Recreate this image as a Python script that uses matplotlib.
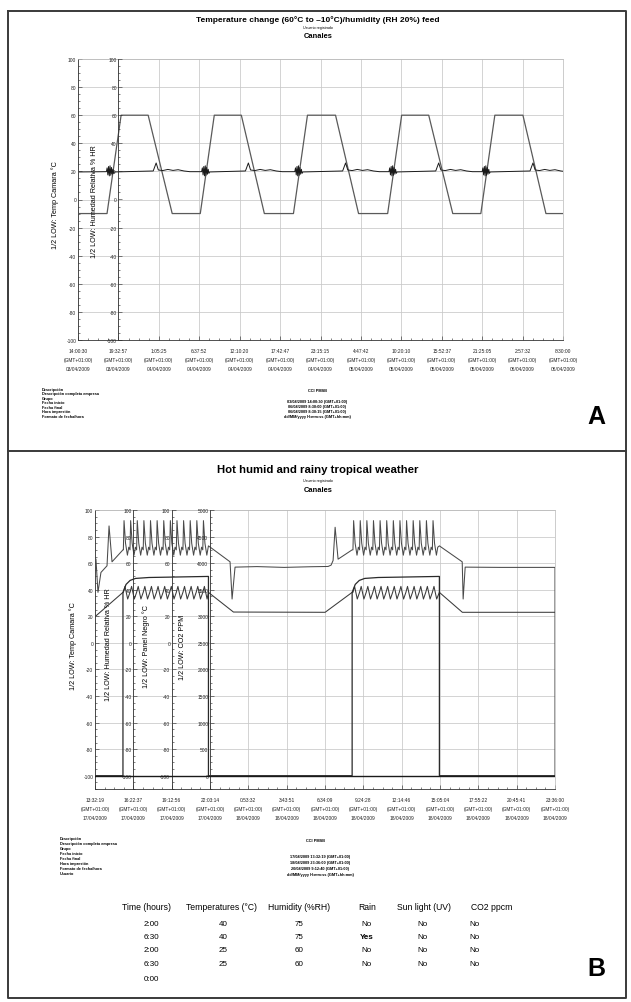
import numpy as np
import matplotlib
matplotlib.use("Agg")
import matplotlib.pyplot as plt
from matplotlib.ticker import AutoMinorLocator
from matplotlib.lines import Line2D

plt.rcParams['font.family'] = ['Liberation Sans', 'DejaVu Sans']
plt.rcParams['axes.unicode_minus'] = False

W, H = 631, 1003

# ---------------- panel A data ----------------
a_tick_times = ["14:00:30", "19:32:57", "1:05:25", "6:37:52", "12:10:20", "17:42:47", "23:15:15",
                "4:47:42", "10:20:10", "15:52:37", "21:25:05", "2:57:32", "8:30:00"]
a_tick_dates = ["03/04/2009", "03/04/2009", "04/04/2009", "04/04/2009", "04/04/2009", "04/04/2009",
                "04/04/2009", "05/04/2009", "05/04/2009", "05/04/2009", "05/04/2009", "06/04/2009",
                "06/04/2009"]
a_span = 66.158  # hours from first to last tick

# chamber temperature (hours since first tick, degC)
a_temp_hours = [0.2, 3.96, 5.88, 9.57, 12.85, 16.68, 18.59, 22.28, 25.42, 29.39, 31.30,
                35.13, 38.27, 42.24, 44.15, 47.84, 51.12, 54.95, 56.86, 60.69, 63.83, 66.16]
a_temp_vals = [-10, -10, 60, 60, -10, -10, 60, 60, -10, -10, 60, 60, -10, -10, 60, 60,
               -10, -10, 60, 60, -10, -10]

# relative humidity: baseline, bumps (temp falling) and noisy parts (temp rising)
a_hum_start = [0.2, 19.6]
a_bump_hours = [10.66, 23.24, 36.50, 49.20, 62.06]
a_bump_offs = [-0.4, 0.0, 0.3, 0.9, 1.6, 2.3, 3.0, 3.8, 4.6]
a_bump_vals = [20.3, 26.0, 21.0, 20.6, 21.4, 20.7, 21.2, 20.3, 19.8]
a_noise_hours = [4.37, 17.36, 30.07, 42.92, 55.63]
a_noise_offs = [-0.5, -0.4, -0.3, -0.2, -0.1, 0.0, 0.1, 0.2, 0.3, 0.4, 0.5, 0.6]
a_noise_vals = [19.8, 22.5, 17.5, 23.5, 16.8, 24.0, 17.2, 22.8, 18.0, 21.5, 18.6, 19.6]

# ---------------- panel B data ----------------
b_tick_times = ["13:32:19", "16:22:37", "19:12:56", "22:03:14", "0:53:32", "3:43:51", "6:34:09",
                "9:24:28", "12:14:46", "15:05:04", "17:55:22", "20:45:41", "23:36:00"]
b_tick_dates = ["17/04/2009", "17/04/2009", "17/04/2009", "17/04/2009", "18/04/2009",
                "18/04/2009", "18/04/2009", "18/04/2009", "18/04/2009", "18/04/2009",
                "18/04/2009", "18/04/2009", "18/04/2009"]
b_span = 34.061

# rain cycles (sharp peaks)
b_cycle1_hours = [2.10, 2.59, 3.08, 3.57, 4.06, 4.55, 5.04, 5.53, 6.02, 6.51, 7.00, 7.49, 7.98]
b_cycle2_hours = [19.10, 19.59, 20.08, 20.57, 21.06, 21.55, 22.04, 22.53, 23.02, 23.51, 24.00,
                  24.49, 24.98]

# black panel temperature (upper trace)
b_pn_pre_hours = [0.07, 0.22, 0.44, 0.89, 1.04, 1.26, 2.07]
b_pn_pre_vals = [63, 38, 53, 58, 88, 61, 70]
b_pn_peak_offs = [0.0, 0.05, 0.16, 0.30, 0.40]
b_pn_peak_vals = [70, 92, 75, 66, 72]
b_pn_mid_hours = [8.40, 10.00, 10.15, 10.37, 12.0, 14.0, 16.0, 17.26, 17.48, 17.63, 17.78, 18.00, 19.04]
b_pn_mid_vals = [73, 61, 33, 57, 57.4, 56.8, 57.3, 57.5, 58.5, 62, 87, 63, 70]
b_pn_post_hours = [25.50, 27.19, 27.26, 27.41, 30.0, 34.06, 34.06]
b_pn_post_vals = [73, 61, 33, 57, 56.8, 56.8, -100]

# relative humidity (plateau trace)
b_hum_hours = [0.07, 2.07, 2.07, 2.30, 2.60, 3.00, 4.00, 8.40, 8.40, 19.04, 19.04, 19.27,
               19.57, 19.97, 20.97, 25.50, 25.50, 34.06]
b_hum_vals = [-100, -100, 38, 44, 47, 48.5, 49.2, 50, -100, -100, 38, 44, 47, 48.5, 49.2,
              50, -100, -100]

# chamber temperature (lower zig-zag trace)
b_tc_pre_hours = [0.0, 2.07]
b_tc_pre_vals = [19.7, 38]
b_tc_zig_offs = [0.0, 0.12, 0.32]
b_tc_zig_vals = [38, 42.5, 33]
b_tc_mid_hours = [8.40, 10.25, 17.04, 19.04]
b_tc_mid_vals = [38, 23.2, 23, 38]
b_tc_post_hours = [25.50, 27.20, 34.06]
b_tc_post_vals = [38, 23, 23]

# CO2 ppm
b_co2_hours = [0.0, 34.06]
b_co2_vals = [0, 0]

# table
table_cols = ["Time (hours)", "Temperatures (\u00b0C)", "Humidity (%RH)", "Rain", "Sun light (UV)", "CO2 ppcm"]
table_rows = [["2:00", "40", "75", "No", "No", "No"],
              ["6:30", "40", "75", "Yes", "No", "No"],
              ["2:00", "25", "60", "No", "No", "No"],
              ["6:30", "25", "60", "No", "No", "No"],
              ["0:00", "", "", "", "", ""]]

info_names = ["Descripci\u00f3n", "Descripci\u00f3n completa empresa", "Grupo", "Fecha inicio",
              "Fecha final", "Hora impresi\u00f3n", "Formato de fecha/hora"]
info_a = ["03/04/2009 14:00:30 (GMT+01:00)", "06/04/2009 8:30:00 (GMT+01:00)",
          "06/04/2009 8:30:15 (GMT+01:00)", "dd/MM/yyyy H:mm:ss (GMT+hh:mm)"]
info_b = ["17/04/2009 13:32:19 (GMT+01:00)", "18/04/2009 23:36:00 (GMT+01:00)",
          "20/04/2009 9:12:40 (GMT+01:00)", "dd/MM/yyyy H:mm:ss (GMT+hh:mm)"]


def place(times, offs, vals):
    xs, ys = [], []
    for t in times:
        for o, v in zip(offs, vals):
            xs.append(t + o)
            ys.append(v)
    return xs, ys


def fx(px):
    return px / W


def fy(py):
    return 1 - py / H


def axes_px(fig, left, top, right, bottom):
    return fig.add_axes([left / W, 1 - bottom / H, (right - left) / W, (bottom - top) / H])


def style(ax):
    ax.tick_params(which='both', direction='in', labelsize=3.5, width=0.4, pad=1.2, colors='#222222')
    ax.tick_params(which='major', length=2.6)
    ax.tick_params(which='minor', length=1.4)


def main_axis(ax, span, times, dates, ylim):
    ax.set_xlim(0, span)
    ax.set_ylim(*ylim)
    ax.set_xticks(np.linspace(0, span, 13))
    ax.set_xticklabels([f"{t}\n(GMT+01:00)\n{d}" for t, d in zip(times, dates)],
                       fontsize=3.8, linespacing=2.05)
    ax.set_yticks(np.arange(-100, 101, 20))
    ax.xaxis.set_minor_locator(AutoMinorLocator(4))
    ax.yaxis.set_minor_locator(AutoMinorLocator(4))
    ax.grid(True, which='major', color='#c8c8c8', lw=0.55)
    ax.set_axisbelow(True)
    for s in ['top', 'right']:
        ax.spines[s].set_color('#b8b8b8')
        ax.spines[s].set_linewidth(0.5)
    for s in ['left', 'bottom']:
        ax.spines[s].set_color('#333333')
        ax.spines[s].set_linewidth(0.6)
    style(ax)
    ax.tick_params(axis='x', pad=5.5)


def extra_axis(ax, frac, ylim, ticks):
    t = ax.twinx()
    t.set_ylim(*ylim)
    t.set_yticks(ticks)
    t.yaxis.set_minor_locator(AutoMinorLocator(4))
    t.yaxis.set_ticks_position('left')
    t.spines['left'].set_position(('axes', frac))
    t.spines['left'].set_visible(True)
    t.spines['left'].set_color('#333333')
    t.spines['left'].set_linewidth(0.6)
    for s in ['right', 'top', 'bottom']:
        t.spines[s].set_visible(False)
    style(t)
    return t


fig = plt.figure(figsize=(W / 100, H / 100), dpi=100)

# outer frame and separator
frame = dict(color='#3a3a3a', lw=1.4, transform=fig.transFigure)
fig.add_artist(Line2D([fx(8), fx(626), fx(626), fx(8), fx(8)],
                      [fy(12), fy(12), fy(999), fy(999), fy(12)], **frame))
fig.add_artist(Line2D([fx(8), fx(626)], [fy(452), fy(452)], **frame))

# ---------------- panel A ----------------
axA = axes_px(fig, 78, 60, 563, 341)
main_axis(axA, a_span, a_tick_times, a_tick_dates, (-100, 100))
extra_axis(axA, 1 / 12, (-100, 100), np.arange(-100, 101, 20))

hx, hy = [a_hum_start[0]], [a_hum_start[1]]
bx, by = place(a_bump_hours, a_bump_offs, a_bump_vals)
nx, ny = place(a_noise_hours, a_noise_offs, a_noise_vals)
pts = sorted(zip(hx + bx + nx, hy + by + ny))
axA.plot([p[0] for p in pts], [p[1] for p in pts], color='#1a1a1a', lw=0.7, zorder=4)
axA.plot(a_temp_hours, a_temp_vals, color='#5a5a5a', lw=0.9, zorder=3)

fig.text(fx(318), fy(20), "Temperature change (60\u00b0C to \u201310\u00b0C)/humidity (RH 20%) feed",
         ha='center', va='center', fontsize=6.0, fontweight='bold')
fig.text(fx(318), fy(28), "Usuario registrado", ha='center', va='center', fontsize=2.6)
fig.text(fx(318), fy(36), "Canales", ha='center', va='center', fontsize=5.4, fontweight='bold')
fig.text(fx(55), fy(205), "1/2 LOW: Temp Camara \u00b0C", rotation=90, ha='center', va='center', fontsize=5.2)
fig.text(fx(95), fy(202), "1/2 LOW: Humedad Relativa % HR", rotation=90, ha='center', va='center', fontsize=5.2)

fig.text(fx(318), fy(391), "CCI PMSB", ha='center', va='center', fontsize=2.8, fontweight='bold')
for i, s in enumerate(info_names):
    fig.text(fx(42), fy(390 + i * 4.5), s, ha='left', va='center', fontsize=2.8, fontweight='bold')
for i, s in enumerate(info_a):
    fig.text(fx(317), fy(402 + i * 5), s, ha='center', va='center', fontsize=2.8, fontweight='bold')
fig.text(fx(596), fy(417), "A", ha='center', va='center', fontsize=18, fontweight='bold')

# ---------------- panel B ----------------
axB = axes_px(fig, 95, 511, 555, 790)
main_axis(axB, b_span, b_tick_times, b_tick_dates, (-110, 100))
extra_axis(axB, 1 / 12, (-110, 100), np.arange(-100, 101, 20))
extra_axis(axB, 2 / 12, (-110, 100), np.arange(-100, 101, 20))
axC = extra_axis(axB, 3 / 12, (-250, 5000), np.arange(0, 5001, 500))

# black panel
px1, py1 = place(b_cycle1_hours, b_pn_peak_offs, b_pn_peak_vals)
px2, py2 = place(b_cycle2_hours, b_pn_peak_offs, b_pn_peak_vals)
pn_x = b_pn_pre_hours + px1 + b_pn_mid_hours + px2 + b_pn_post_hours
pn_y = b_pn_pre_vals + py1 + b_pn_mid_vals + py2 + b_pn_post_vals
axB.plot(pn_x, pn_y, color='#4a4a4a', lw=0.75, zorder=4)

# chamber temperature
zx1, zy1 = place(b_cycle1_hours, b_tc_zig_offs, b_tc_zig_vals)
zx2, zy2 = place(b_cycle2_hours, b_tc_zig_offs, b_tc_zig_vals)
tc_x = b_tc_pre_hours + zx1 + b_tc_mid_hours + zx2 + b_tc_post_hours
tc_y = b_tc_pre_vals + zy1 + b_tc_mid_vals + zy2 + b_tc_post_vals
axB.plot(tc_x, tc_y, color='#3a3a3a', lw=0.75, zorder=4)

# humidity
axB.plot(b_hum_hours, b_hum_vals, color='#2a2a2a', lw=0.9, zorder=4)

# CO2
axC.plot(b_co2_hours, b_co2_vals, color='#1a1a1a', lw=1.0, zorder=4)

fig.text(fx(318), fy(470), "Hot humid and rainy tropical weather", ha='center', va='center',
         fontsize=8.2, fontweight='bold')
fig.text(fx(318), fy(481), "Usuario registrado", ha='center', va='center', fontsize=2.6)
fig.text(fx(318), fy(491), "Canales", ha='center', va='center', fontsize=5.4, fontweight='bold')
fig.text(fx(73), fy(646), "1/2 LOW: Temp Camara \u00b0C", rotation=90, ha='center', va='center', fontsize=5.2)
fig.text(fx(108), fy(645), "1/2 LOW: Humedad Relativa % HR", rotation=90, ha='center', va='center', fontsize=5.2)
fig.text(fx(146), fy(647), "1/2 LOW: Panel Negro \u00b0C", rotation=90, ha='center', va='center', fontsize=5.2)
fig.text(fx(183), fy(647), "1/2 LOW: CO2 PPM", rotation=90, ha='center', va='center', fontsize=5.2)

fig.text(fx(316), fy(841), "CCI PMSB", ha='center', va='center', fontsize=2.8, fontweight='bold')
for i, s in enumerate(info_names + ["Usuario"]):
    fig.text(fx(60), fy(839 + i * 5), s, ha='left', va='center', fontsize=2.8, fontweight='bold')
for i, s in enumerate(info_b):
    fig.text(fx(320), fy(857 + i * 6), s, ha='center', va='center', fontsize=2.8, fontweight='bold')

# table
head_x = [147, 222, 299, 367, 424, 492]
cell_x = [151, 223, 299, 367, 423, 474]
row_y = [925, 938, 951, 965, 980]
for x, s in zip(head_x, table_cols):
    fig.text(fx(x), fy(908), s, ha='center', va='center', fontsize=6.2)
for y, row in zip(row_y, table_rows):
    for x, s in zip(cell_x, row):
        fig.text(fx(x), fy(y), s, ha='center', va='center', fontsize=5.8,
                 fontweight='bold' if s == "Yes" else 'normal')
fig.text(fx(596), fy(969), "B", ha='center', va='center', fontsize=18, fontweight='bold')

fig.savefig("out.png", dpi=100)
